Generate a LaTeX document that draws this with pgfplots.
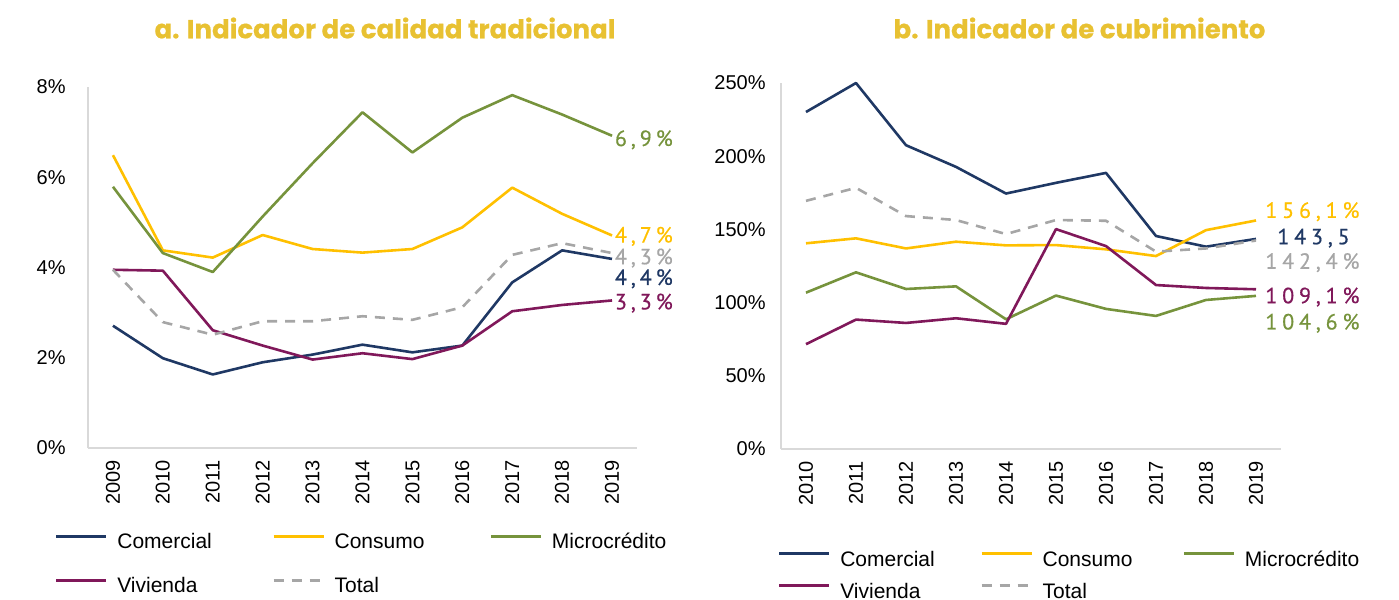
\documentclass[border=0pt]{standalone}
\usepackage{fontspec}
\setmainfont{Liberation Sans}
\newfontfamily\titlefont{Poppins}[BoldFeatures={FakeBold=0.5}]
\newfontfamily\lblfont[LetterSpace=18, FakeBold=0.6]{PT Sans}
\newfontfamily\lblfontb[LetterSpace=22, FakeBold=0.6]{PT Sans}
\usepackage{pgfplots}
\pgfplotsset{compat=1.18}

\definecolor{comercial}{HTML}{1F3864}
\definecolor{consumo}{HTML}{FFC000}
\definecolor{micro}{HTML}{76933C}
\definecolor{vivienda}{HTML}{80185A}
\definecolor{total}{HTML}{A6A6A6}
\definecolor{titlegold}{HTML}{E8C132}
\definecolor{axisgray}{HTML}{D9D9D9}

\pgfplotsset{
  panel/.style={
    scale only axis,
    clip=false,
    axis x line*=bottom,
    axis y line*=left,
    axis line style={-, draw=axisgray, line width=1pt},
    major tick length=0pt,
    xtick={2009,...,2019},
    /pgf/number format/assume math mode=true,
    /pgf/number format/1000 sep={},
    xticklabel style={rotate=90, anchor=east, inner sep=0pt,
      font=\fontsize{10}{12}\selectfont},
    yticklabel style={anchor=east, inner sep=0pt,
      font=\fontsize{10}{12}\selectfont},
    yticklabel={\pgfmathprintnumber{\tick}\%},
    xticklabel shift=6pt,
    every axis plot/.append style={line width=1.3pt, line join=round},
    legend image code/.code={\draw[##1] (0pt,3.5pt) -- (25pt,3.5pt); \path[draw=none] (30.5pt,3.5pt);},
    legend cell align=left,
    legend columns=3,
  },
  tot/.style={total, dash pattern=on 5pt off 4pt},
}

\begin{document}
\begin{tikzpicture}
\path[use as bounding box] (0,0) rectangle (699.5pt,-300pt);

\node[font=\titlefont\bfseries\fontsize{13}{15}\selectfont, text=titlegold] at (192.5pt,-14pt) {a. Indicador de calidad tradicional};
\node[font=\titlefont\bfseries\fontsize{13}{15}\selectfont, text=titlegold] at (539.75pt,-14pt) {b. Indicador de cubrimiento};

% a. Indicador de calidad tradicional (%)
\begin{axis}[panel,
  at={(44pt,-224pt)}, anchor=south west,
  width=274.5pt, height=180.5pt,
  xmin=2008.5, xmax=2019.5,
  ymin=0, ymax=8,
  ytick={0,2,4,6,8},
  yticklabel shift=11pt,
  legend style={draw=none, fill=none, inner sep=0pt, outer sep=0pt,
    at={(-0.060,-0.238)}, anchor=north west,
    column sep=0pt, row sep=12.5pt,
    nodes={inner sep=0pt, text height=7.5pt, text depth=2pt,
      font=\fontsize{10.5}{12}\selectfont}},
]
\addplot[comercial] coordinates {
  (2009,2.71) (2010,1.99) (2011,1.63) (2012,1.90) (2013,2.07) (2014,2.29)
  (2015,2.12) (2016,2.27) (2017,3.67) (2018,4.38) (2019,4.19)};
\addlegendentry{\makebox[77.5pt][l]{Comercial}}
\addplot[consumo] coordinates {
  (2009,6.49) (2010,4.38) (2011,4.22) (2012,4.72) (2013,4.41) (2014,4.33)
  (2015,4.41) (2016,4.89) (2017,5.77) (2018,5.19) (2019,4.71)};
\addlegendentry{\makebox[77.5pt][l]{Consumo}}
\addplot[micro] coordinates {
  (2009,5.79) (2010,4.32) (2011,3.90) (2012,5.13) (2013,6.31) (2014,7.44)
  (2015,6.55) (2016,7.32) (2017,7.82) (2018,7.39) (2019,6.92)};
\addlegendentry{Microcrédito}
\addplot[vivienda] coordinates {
  (2009,3.95) (2010,3.93) (2011,2.61) (2012,2.27) (2013,1.96) (2014,2.10)
  (2015,1.97) (2016,2.27) (2017,3.03) (2018,3.17) (2019,3.27)};
\addlegendentry{\makebox[77.5pt][l]{Vivienda}}
\addplot[tot] coordinates {
  (2009,3.95) (2010,2.79) (2011,2.51) (2012,2.81) (2013,2.81) (2014,2.92)
  (2015,2.84) (2016,3.12) (2017,4.28) (2018,4.54) (2019,4.32)};
\addlegendentry{Total}

\node[anchor=west, inner sep=0pt, text=micro, font=\lblfont\fontsize{11}{12}\selectfont] at (axis cs:2019.05,6.83) {6,9\%};
\node[anchor=west, inner sep=0pt, text=consumo, font=\lblfont\fontsize{11}{12}\selectfont] at (axis cs:2019.05,4.69) {4,7\%};
\node[anchor=west, inner sep=0pt, text=total, font=\lblfont\fontsize{11}{12}\selectfont] at (axis cs:2019.05,4.21) {4,3\%};
\node[anchor=west, inner sep=0pt, text=comercial, font=\lblfont\fontsize{11}{12}\selectfont] at (axis cs:2019.05,3.75) {4,4\%};
\node[anchor=west, inner sep=0pt, text=vivienda, font=\lblfont\fontsize{11}{12}\selectfont] at (axis cs:2019.05,3.21) {3,3\%};
\end{axis}

% b. Indicador de cubrimiento (%)
\begin{axis}[panel,
  at={(390.5pt,-224.5pt)}, anchor=south west,
  width=250pt, height=183pt,
  xmin=2009.5, xmax=2019.5,
  xtick={2010,...,2019},
  ymin=0, ymax=250,
  ytick={0,50,100,150,200,250},
  yticklabel shift=7.5pt,
  legend style={draw=none, fill=none, inner sep=0pt, outer sep=0pt,
    at={(-0.006,-0.279)}, anchor=north west,
    column sep=0pt, row sep=6.5pt,
    nodes={inner sep=0pt, text height=7.5pt, text depth=2pt,
      font=\fontsize{10.5}{12}\selectfont}},
]
\addplot[comercial] coordinates {
  (2010,230.2) (2011,250.0) (2012,207.5) (2013,192.7) (2014,174.5)
  (2015,181.8) (2016,188.6) (2017,145.5) (2018,138.2) (2019,143.5)};
\addlegendentry{\makebox[70pt][l]{Comercial}}
\addplot[consumo] coordinates {
  (2010,140.5) (2011,143.9) (2012,137.0) (2013,141.6) (2014,139.1)
  (2015,139.3) (2016,136.4) (2017,131.8) (2018,149.5) (2019,156.1)};
\addlegendentry{\makebox[70pt][l]{Consumo}}
\addplot[micro] coordinates {
  (2010,106.8) (2011,120.7) (2012,109.3) (2013,111.1) (2014,88.6)
  (2015,104.8) (2016,95.7) (2017,90.9) (2018,101.8) (2019,104.6)};
\addlegendentry{Microcrédito}
\addplot[vivienda] coordinates {
  (2010,71.6) (2011,88.4) (2012,86.1) (2013,89.3) (2014,85.5)
  (2015,150.2) (2016,138.6) (2017,112.0) (2018,110.0) (2019,109.1)};
\addlegendentry{\makebox[70pt][l]{Vivienda}}
\addplot[tot] coordinates {
  (2010,169.5) (2011,178.4) (2012,159.1) (2013,156.4) (2014,146.8)
  (2015,156.4) (2016,155.9) (2017,134.8) (2018,137.0) (2019,142.4)};
\addlegendentry{Total}

\node[anchor=west, inner sep=0pt, text=consumo, font=\lblfontb\fontsize{11}{12}\selectfont] at (axis cs:2019.18,162.1) {156,1\%};
\node[anchor=west, inner sep=0pt, text=comercial, font=\lblfontb\fontsize{11}{12}\selectfont] at (axis cs:2019.42,144.1) {143,5};
\node[anchor=west, inner sep=0pt, text=total, font=\lblfontb\fontsize{11}{12}\selectfont] at (axis cs:2019.18,127.3) {142,4\%};
\node[anchor=west, inner sep=0pt, text=vivienda, font=\lblfontb\fontsize{11}{12}\selectfont] at (axis cs:2019.18,103.8) {109,1\%};
\node[anchor=west, inner sep=0pt, text=micro, font=\lblfontb\fontsize{11}{12}\selectfont] at (axis cs:2019.18,85.9) {104,6\%};
\end{axis}
\end{tikzpicture}
\end{document}
